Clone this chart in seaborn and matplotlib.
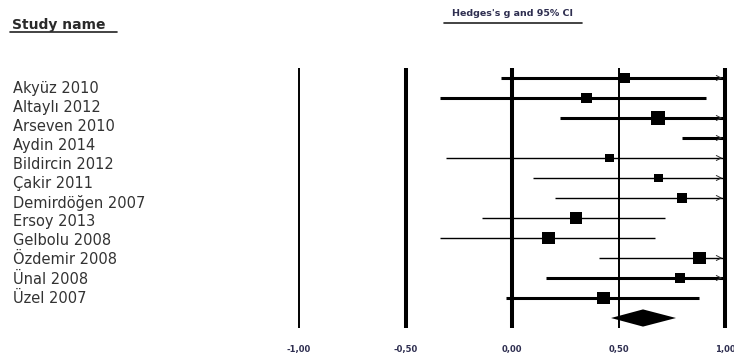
import numpy as np
import pandas as pd
import matplotlib
matplotlib.use("Agg")
import matplotlib.pyplot as plt
from matplotlib.lines import Line2D
import seaborn as sns

# study data (Hedges's g, 95% CI, relative weight)
studies = ["Akyüz 2010", "Altaylı 2012", "Arseven 2010", "Aydin 2014", "Bildircin 2012",
           "Çakir 2011", "Demirdöğen 2007", "Ersoy 2013", "Gelbolu 2008", "Özdemir 2008",
           "Ünal 2008", "Üzel 2007"]
hedges_g = [0.53, 0.35, 0.685, 1.30, 0.46, 0.69, 0.80, 0.30, 0.17, 0.88, 0.79, 0.43]
ci_lower = [-0.05, -0.34, 0.225, 0.80, -0.31, 0.10, 0.20, -0.14, -0.34, 0.41, 0.16, -0.03]
ci_upper = [1.11, 0.91, 1.15, 1.80, 1.23, 1.29, 1.40, 0.72, 0.67, 1.35, 1.42, 0.88]
weights = [7.5, 7.5, 12, 8, 5, 5, 6, 10, 10, 10, 6, 10]
summary_g, summary_lo, summary_hi = 0.615, 0.465, 0.77
ticks = [-1.0, -0.5, 0.0, 0.5, 1.0]

# style only
thick_rows = ["Akyüz 2010", "Altaylı 2012", "Arseven 2010", "Aydin 2014", "Ünal 2008", "Üzel 2007"]
ref_lw = [1.4, 2.9, 2.9, 1.4, 2.9]

df = pd.DataFrame({"study": studies, "g": hedges_g, "lo": ci_lower, "hi": ci_upper,
                   "w": weights})
df["row"] = np.arange(len(df))

sns.set_style("white")
plt.rcParams["font.family"] = ["DejaVu Sans"]

fig = plt.figure(figsize=(7.34, 3.61), dpi=100)
ax = fig.add_axes([0, 23 / 361, 1, 338 / 361])
ax.set_xlim(-512 / 213, 222 / 213)
ax.set_ylim(13.0, -3.9)

# reference lines
for x, lw in zip(ticks, ref_lw):
    ax.vlines(x, -0.5, 12.5, color="black", lw=lw)

# confidence intervals, clipped at the right edge with arrows
xmax = ticks[-1]
for _, r in df.iterrows():
    lw = 2.2 if r["study"] in thick_rows else 1.0
    ax.hlines(r["row"], r["lo"], min(r["hi"], xmax), color="black", lw=lw)
    if r["hi"] > xmax:
        ax.annotate("", xy=(xmax, r["row"]), xytext=(xmax - 0.04, r["row"]),
                    arrowprops=dict(arrowstyle="->,head_length=0.35,head_width=0.18",
                                    lw=0.7, color="#333333"))

sns.scatterplot(data=df, x="g", y="row", size="w", sizes=(0, 100), size_norm=(0, 12),
                marker="s", color="black", linewidth=0, legend=False, ax=ax)

# summary diamond
n = len(df)
ax.fill([summary_lo, summary_g, summary_hi, summary_g],
        [n, n - 0.43, n, n + 0.43], color="black", lw=0)

ax.set_xticks(ticks)
ax.set_xticklabels([f"{t:.2f}".replace(".", ",") for t in ticks],
                   fontsize=6, fontweight="bold", color="#2e2e50")
ax.tick_params(axis="x", length=0, pad=5)
ax.set_yticks([])
ax.set_xlabel("")
ax.set_ylabel("")
sns.despine(ax=ax, left=True, bottom=True)
ax.patch.set_alpha(0)

# study names column
ax_lab = fig.add_axes([0, 0, 1, 1])
ax_lab.set_xlim(0, 734)
ax_lab.set_ylim(273 / 19.1, -88 / 19.1)
ax_lab.axis("off")
for i, name in enumerate(studies):
    ax_lab.text(13, i, name, ha="left", va="center", fontsize=10.5, color="#333333")

# headers with underline
fig.text(12 / 734, 1 - 25 / 361, "Study name", ha="left", va="center",
         fontsize=10, fontweight="bold", color="#2a2a2a")
fig.add_artist(Line2D([10 / 734, 117 / 734], [1 - 32 / 361, 1 - 32 / 361],
                      color="#222222", lw=1.2))
fig.text(513 / 734, 1 - 14 / 361, "Hedges's g and 95% CI", ha="center", va="center",
         fontsize=6.8, fontweight="bold", color="#2e2e50")
fig.add_artist(Line2D([444 / 734, 582 / 734], [1 - 23 / 361, 1 - 23 / 361],
                      color="#222222", lw=1.2))

fig.savefig("out.png", dpi=100)
